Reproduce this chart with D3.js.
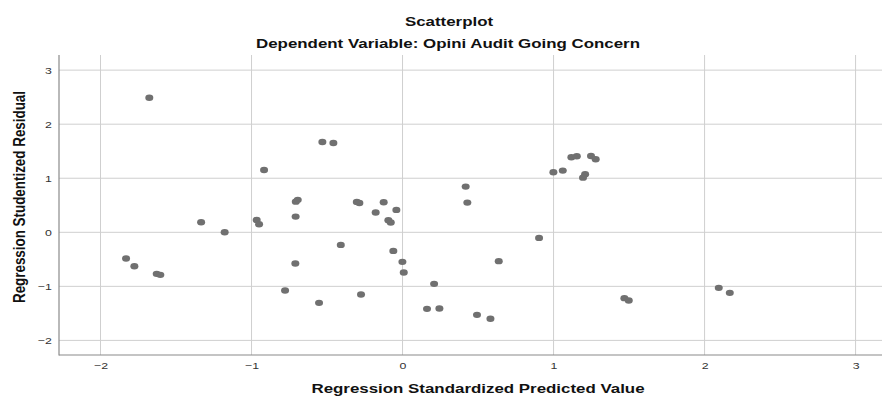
<!DOCTYPE html>
<html lang="en">
<head>
    <meta charset="UTF-8">
    <title>Scatterplot</title>
    <style>
        body{
            margin:0;
            background:#fff;
        }
        text{
            font-family: "Liberation Sans", Arial, sans-serif;
        }
    </style>
    <script src="https://cdn.jsdelivr.net/npm/d3@7"></script>
</head>
<body>
<div id="container"></div>
</body>
<script>

var w = 884;
var h = 397;

// predicted values (x) and studentized residuals (y)
var predicted = [-1.677, -0.917, -1.334, -1.178, -0.966, -0.950, -0.708, -0.707, -0.694, -0.710,
    -1.831, -1.776, -1.628, -1.604, -0.778, -0.531, -0.458, -0.303, -0.286, -0.409,
    -0.553, -0.275, -0.125, -0.178, -0.041, -0.094, -0.078, -0.061, -0.001, 0.008,
    0.209, 0.162, 0.244, 0.418, 0.429, 0.493, 0.582, 0.637, 0.904, 0.999,
    1.061, 1.118, 1.154, 1.248, 1.279, 1.209, 1.195, 1.469, 1.498, 2.094, 2.167];
var residual = [2.49, 1.153, 0.187, 0.0, 0.229, 0.15, 0.29, 0.567, 0.60, -0.578,
    -0.486, -0.627, -0.769, -0.787, -1.077, 1.671, 1.652, 0.562, 0.543, -0.233,
    -1.305, -1.151, 0.556, 0.365, 0.414, 0.224, 0.18, -0.344, -0.547, -0.745,
    -0.954, -1.416, -1.41, 0.845, 0.549, -1.527, -1.60, -0.534, -0.104, 1.111,
    1.141, 1.388, 1.406, 1.412, 1.351, 1.074, 1.011, -1.218, -1.262, -1.028, -1.12];

var xTicks = [-2, -1, 0, 1, 2, 3];
var yTicks = [-2, -1, 0, 1, 2, 3];

// the picture is a bit stretched sideways, so text is widened to match
var sx = 1.3;

var pLeft = 59, pRight = 882, pTop = 55, pBottom = 355;

var xScale = d3.scaleLinear().domain([-2.275, 3.175]).range([pLeft, pRight]);
var yScale = d3.scaleLinear().domain([-2.27, 3.28]).range([pBottom, pTop]);

var svg = d3.select("#container")
        .append("svg")
        .attr("width", w)
        .attr("height", h);

// grid
svg.selectAll("line.vgrid")
        .data(xTicks)
        .enter()
        .append("line")
        .attr("class", "vgrid")
        .attr("x1", function(d){ return xScale(d); })
        .attr("x2", function(d){ return xScale(d); })
        .attr("y1", pTop)
        .attr("y2", pBottom)
        .attr("stroke", "#cfcfcf")
        .attr("stroke-width", 1);

svg.selectAll("line.hgrid")
        .data(yTicks)
        .enter()
        .append("line")
        .attr("class", "hgrid")
        .attr("x1", pLeft)
        .attr("x2", pRight)
        .attr("y1", function(d){ return yScale(d); })
        .attr("y2", function(d){ return yScale(d); })
        .attr("stroke", "#cfcfcf")
        .attr("stroke-width", 1);

// axes
var xAxis = d3.axisBottom(xScale).tickValues(xTicks).tickSize(0).tickPadding(7)
        .tickFormat(d3.format("d"));
var yAxis = d3.axisLeft(yScale).tickValues(yTicks).tickSize(0).tickPadding(5.5)
        .tickFormat(d3.format("d"));

var gx = svg.append("g").attr("transform", "translate(0," + pBottom + ")").call(xAxis);
var gy = svg.append("g").attr("transform", "translate(" + pLeft + ",0)").call(yAxis);

[gx, gy].forEach(function(g){
    g.select(".domain").remove();
    g.selectAll("text")
            .attr("font-family", "'Liberation Sans', Arial, sans-serif")
            .attr("font-size", "9.5px")
            .attr("fill", "#333")
            .attr("transform", "scale(" + sx + ",1)");
});

svg.append("line")
        .attr("x1", pLeft).attr("x2", pLeft)
        .attr("y1", pTop).attr("y2", pBottom + 0.5)
        .attr("stroke", "#8a8a8a").attr("stroke-width", 1.2);
svg.append("line")
        .attr("x1", pLeft).attr("x2", pRight)
        .attr("y1", pBottom).attr("y2", pBottom)
        .attr("stroke", "#8a8a8a").attr("stroke-width", 1.2);

// points
svg.selectAll("ellipse")
        .data(predicted)
        .enter()
        .append("ellipse")
        .attr("cx", function(d){ return xScale(d); })
        .attr("cy", function(d, i){ return yScale(residual[i]); })
        .attr("rx", 4)
        .attr("ry", 3.2)
        .attr("fill", "#707070");

// titles
function label(txt, x, y, size, bold) {
    return svg.append("text")
            .text(txt)
            .attr("transform", "translate(" + x + "," + y + ") scale(" + sx + ",1)")
            .attr("text-anchor", "middle")
            .attr("font-size", size + "px")
            .attr("font-weight", bold ? "bold" : "normal")
            .attr("fill", "#111");
}

label("Scatterplot", 449, 25.5, 13, true);
label("Dependent Variable: Opini Audit Going Concern", 448, 48, 13, true);
label("Regression Standardized Predicted Value", 478, 393, 13, true);

svg.append("text")
        .text("Regression Studentized Residual")
        .attr("transform", "translate(25,197) rotate(-90) scale(1," + sx + ")")
        .attr("text-anchor", "middle")
        .attr("font-size", "13.4px")
        .attr("font-weight", "bold")
        .attr("fill", "#111");

</script>

</html>
